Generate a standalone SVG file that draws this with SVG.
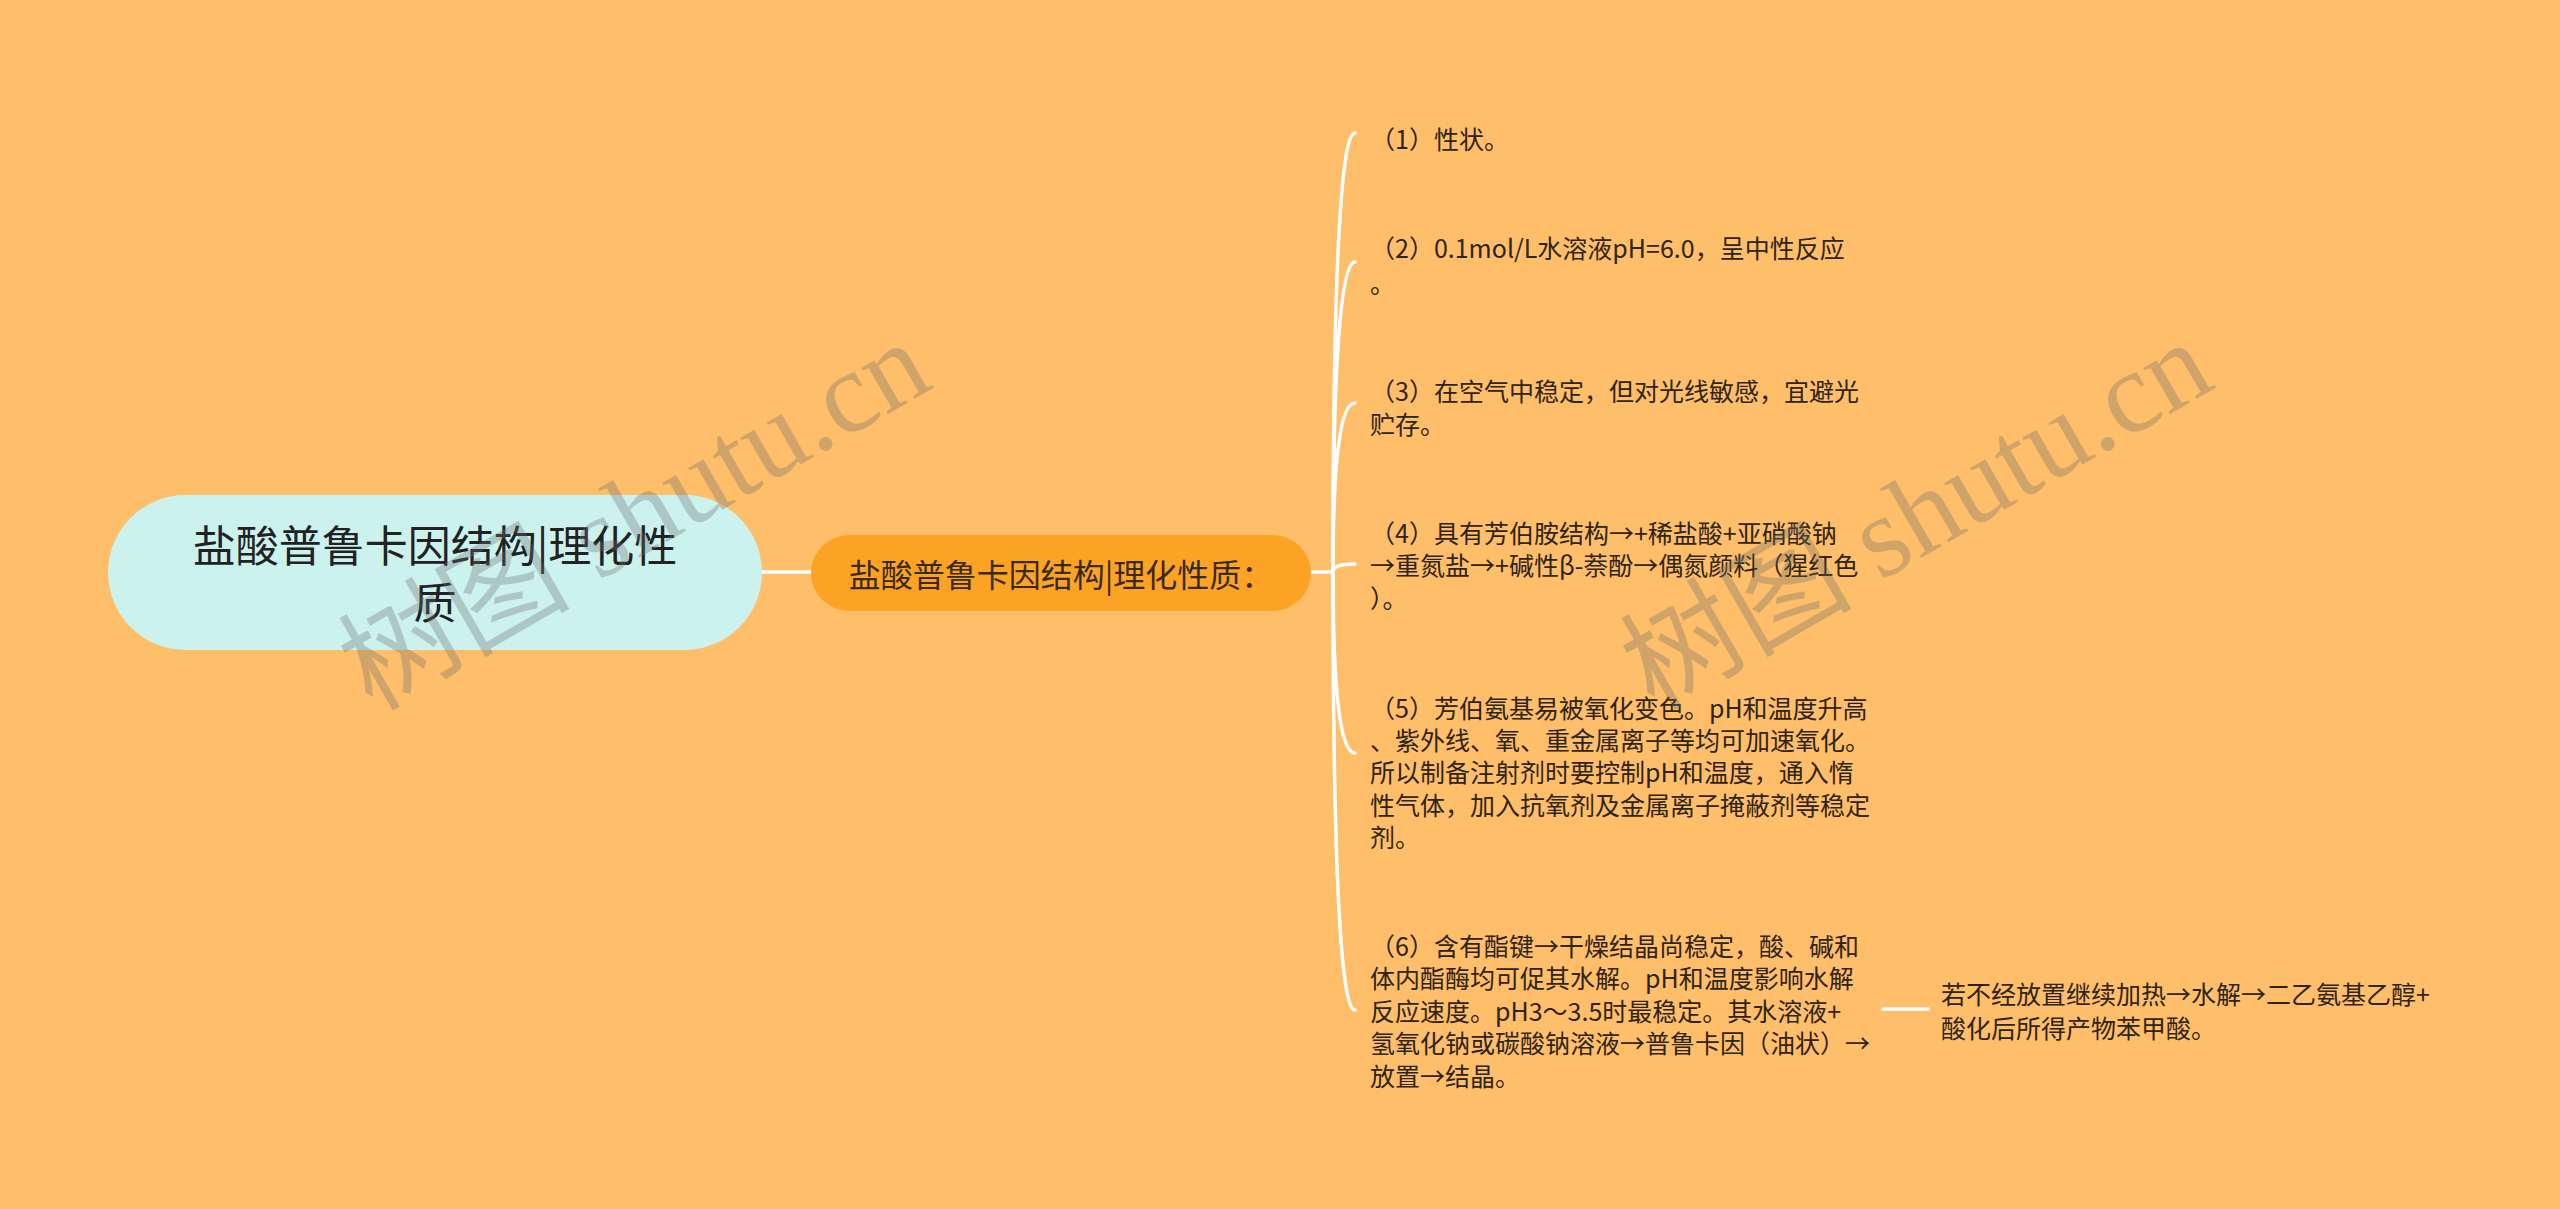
<svg xmlns="http://www.w3.org/2000/svg" width="2560" height="1209" viewBox="0 0 2560 1209">
<style>
.bg{fill:#FFBE6A}
.root{fill:#CCF2EE}
.l1{fill:#FCA325}
.t{font-family:"Noto Sans CJK SC","Noto Sans",sans-serif;fill:#2B2B2B;dominant-baseline:central}
.rt{font-size:43px;text-anchor:middle;fill:#222}
.lt{font-size:32px;text-anchor:middle;fill:#3A2A10}
.leaf{font-size:25px;fill:#2E2414}
.c{fill:none;stroke:#FFFFFF;stroke-width:3.5;stroke-linecap:round}
.wm{font-family:"Liberation Serif","Noto Sans CJK SC",serif;font-size:116px;fill:#6E6E6E;opacity:0.32}
</style>
<rect class="bg" x="0" y="0" width="2560" height="1209"/>

<g id="connectors">
<path class="c" d="M762 572 L811 572"/>
<path class="c" d="M1311 572 L1333 572"/>
<path class="c" d="M1333 572 Q1333 133 1355 133"/>
<path class="c" d="M1333 572 Q1333 262 1355 262"/>
<path class="c" d="M1333 572 Q1333 403 1355 403"/>
<path class="c" d="M1333 572 Q1333 564 1355 564"/>
<path class="c" d="M1333 572 Q1333 753 1355 753"/>
<path class="c" d="M1333 572 Q1333 1010 1355 1010"/>
<path class="c" d="M1883 1009 L1928 1009"/>
</g>

<g id="root">
<rect class="root" x="108" y="495" width="654" height="155" rx="77.5"/>
<text class="t rt" x="435" y="543">盐酸普鲁卡因结构|理化性</text>
<text class="t rt" x="435" y="600">质</text>
</g>

<g id="level1">
<rect class="l1" x="811" y="535" width="500" height="76" rx="38"/>
<text class="t lt" x="1061" y="573">盐酸普鲁卡因结构|理化性质：</text>
</g>

<g id="item1">
<text class="t leaf" x="1370" y="138">（1）性状。</text>
</g>
<g id="item2">
<text class="t leaf" x="1370" y="247">（2）0.1mol/L水溶液pH=6.0，呈中性反应</text>
<text class="t leaf" x="1370" y="282">。</text>
</g>
<g id="item3">
<text class="t leaf" x="1370" y="390">（3）在空气中稳定，但对光线敏感，宜避光</text>
<text class="t leaf" x="1370" y="423">贮存。</text>
</g>
<g id="item4">
<text class="t leaf" x="1370" y="532">（4）具有芳伯胺结构→+稀盐酸+亚硝酸钠</text>
<text class="t leaf" x="1370" y="564">→重氮盐→+碱性β-萘酚→偶氮颜料（猩红色</text>
<text class="t leaf" x="1370" y="597">）。</text>
</g>
<g id="item5">
<text class="t leaf" x="1370" y="707">（5）芳伯氨基易被氧化变色。pH和温度升高</text>
<text class="t leaf" x="1370" y="739">、紫外线、氧、重金属离子等均可加速氧化。</text>
<text class="t leaf" x="1370" y="771">所以制备注射剂时要控制pH和温度，通入惰</text>
<text class="t leaf" x="1370" y="804">性气体，加入抗氧剂及金属离子掩蔽剂等稳定</text>
<text class="t leaf" x="1370" y="836">剂。</text>
</g>
<g id="item6">
<text class="t leaf" x="1370" y="945">（6）含有酯键→干燥结晶尚稳定，酸、碱和</text>
<text class="t leaf" x="1370" y="977">体内酯酶均可促其水解。pH和温度影响水解</text>
<text class="t leaf" x="1370" y="1010">反应速度。pH3～3.5时最稳定。其水溶液+</text>
<text class="t leaf" x="1370" y="1042">氢氧化钠或碳酸钠溶液→普鲁卡因（油状）→</text>
<text class="t leaf" x="1370" y="1075">放置→结晶。</text>
</g>
<g id="item6-1">
<text class="t leaf" x="1941" y="993">若不经放置继续加热→水解→二乙氨基乙醇+</text>
<text class="t leaf" x="1941" y="1027">酸化后所得产物苯甲酸。</text>
</g>

<g id="watermark">
<text class="wm" transform="translate(372 712) rotate(-30)">树图 shutu.cn</text>
<text class="wm" transform="translate(1654 712) rotate(-30)">树图 shutu.cn</text>
</g>
</svg>
